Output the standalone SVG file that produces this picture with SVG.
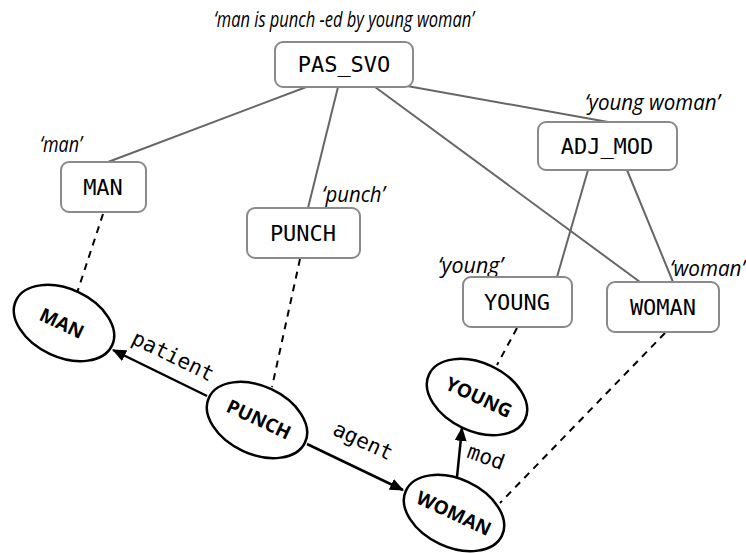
<svg xmlns="http://www.w3.org/2000/svg" width="746" height="553" viewBox="0 0 746 553">
  <defs>
    <marker id="arrow" markerWidth="14" markerHeight="12" refX="13" refY="6" orient="auto" markerUnits="userSpaceOnUse">
      <path d="M0,0 L14,6 L0,12 Z" fill="#000"/>
    </marker>
    <style>
      .box { fill: #fff; stroke: #8a8a8a; stroke-width: 2; }
      .boxlabel { font-family: "DejaVu Sans Mono", monospace; font-size: 22px; fill: #000; text-anchor: middle; dominant-baseline: central; }
      .caption { font-family: "Open Sans", "Liberation Sans", sans-serif; font-style: italic; font-size: 21px; fill: #000; }
      .tree { stroke: #666; stroke-width: 2; fill: none; }
      .link { stroke: #000; stroke-width: 2; stroke-dasharray: 7 6; fill: none; }
      .ell { fill: #fff; stroke: #000; stroke-width: 2.5; }
      .elllabel { font-family: "Open Sans", "DejaVu Sans", sans-serif; font-weight: 700; font-size: 19px; fill: #000; text-anchor: middle; dominant-baseline: central; }
      .edge { stroke: #000; stroke-width: 2.5; fill: none; }
      .edgelabel { font-family: "DejaVu Sans Mono", monospace; font-size: 21px; fill: #000; text-anchor: middle; dominant-baseline: central; }
    </style>
  </defs>

  <!-- tree links and semantic links -->
  <g id="connectors">
    <line class="tree" x1="309" y1="86" x2="108" y2="162"/>
    <line class="tree" x1="338" y1="87" x2="308" y2="208"/>
    <line class="tree" x1="375" y1="87" x2="640" y2="282"/>
    <line class="tree" x1="396" y1="84" x2="608" y2="122"/>
    <line class="tree" x1="588" y1="170" x2="557" y2="277"/>
    <line class="tree" x1="627" y1="170" x2="673" y2="282"/>

    <line class="link" x1="103" y1="214" x2="77" y2="293"/>
    <line class="link" x1="300" y1="259" x2="272" y2="387"/>
    <line class="link" x1="517" y1="328" x2="497" y2="365"/>
    <line class="link" x1="665" y1="333" x2="500" y2="503"/>

    <line class="edge" x1="207" y1="396" x2="113" y2="350" marker-end="url(#arrow)"/>
    <line class="edge" x1="307" y1="444" x2="403" y2="490" marker-end="url(#arrow)"/>
    <line class="edge" x1="457" y1="477" x2="462" y2="428" marker-end="url(#arrow)"/>

    <text class="edgelabel" transform="translate(173,356) rotate(26)">patient</text>
    <text class="edgelabel" transform="translate(363,441) rotate(25)">agent</text>
    <text class="edgelabel" transform="translate(486,457) rotate(20)">mod</text>
  </g>

  <!-- syntactic nodes -->
  <g id="pas_svo">
    <text class="caption" x="214" y="27" textLength="260" lengthAdjust="spacingAndGlyphs">‘man is punch -ed by young woman’</text>
    <rect class="box" x="275" y="42" width="138" height="45" rx="8"/>
    <text class="boxlabel" x="344" y="64">PAS_SVO</text>
  </g>
  <g id="adj_mod">
    <text class="caption" x="585" y="110" textLength="135" lengthAdjust="spacingAndGlyphs">‘young woman’</text>
    <rect class="box" x="538" y="122" width="139" height="48" rx="8"/>
    <text class="boxlabel" x="607" y="146">ADJ_MOD</text>
  </g>
  <g id="man_box">
    <text class="caption" x="40" y="152" textLength="42" lengthAdjust="spacingAndGlyphs">‘man’</text>
    <rect class="box" x="61" y="162" width="85" height="50" rx="8"/>
    <text class="boxlabel" x="103" y="187">MAN</text>
  </g>
  <g id="punch_box">
    <text class="caption" x="322" y="202" textLength="63" lengthAdjust="spacingAndGlyphs">‘punch’</text>
    <rect class="box" x="247" y="208" width="113" height="50" rx="8"/>
    <text class="boxlabel" x="303" y="233">PUNCH</text>
  </g>
  <g id="young_box">
    <text class="caption" x="438" y="273" textLength="65" lengthAdjust="spacingAndGlyphs">‘young’</text>
    <rect class="box" x="463" y="277" width="109" height="50" rx="8"/>
    <text class="boxlabel" x="517" y="302">YOUNG</text>
  </g>
  <g id="woman_box">
    <text class="caption" x="670" y="276" textLength="75" lengthAdjust="spacingAndGlyphs">‘woman’</text>
    <rect class="box" x="607" y="282" width="112" height="50" rx="8"/>
    <text class="boxlabel" x="663" y="307">WOMAN</text>
  </g>

  <!-- semantic nodes -->
  <g id="man_node">
    <ellipse class="ell" cx="64" cy="323" rx="53" ry="34" transform="rotate(25 64 323)"/>
    <text class="elllabel" transform="translate(62,323) rotate(25)">MAN</text>
  </g>
  <g id="punch_node">
    <ellipse class="ell" cx="257" cy="420" rx="53" ry="34" transform="rotate(25 257 420)"/>
    <text class="elllabel" transform="translate(259,419) rotate(25)">PUNCH</text>
  </g>
  <g id="young_node">
    <ellipse class="ell" cx="477" cy="397" rx="53" ry="34" transform="rotate(25 477 397)"/>
    <text class="elllabel" transform="translate(479,397) rotate(25)">YOUNG</text>
  </g>
  <g id="woman_node">
    <ellipse class="ell" cx="454" cy="513" rx="53" ry="34" transform="rotate(25 454 513)"/>
    <text class="elllabel" transform="translate(454,513) rotate(25)">WOMAN</text>
  </g>
</svg>
